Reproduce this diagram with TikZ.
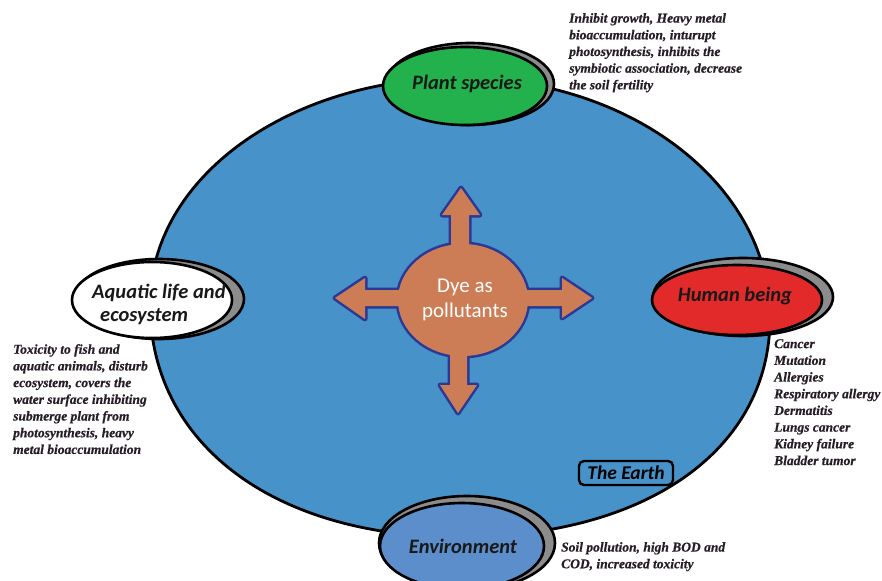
\documentclass[tikz,border=0pt]{standalone}
\usepackage{fontspec}
\setmainfont{Liberation Serif}
\newfontfamily\descfont{Liberation Serif}[BoldItalicFeatures={FakeBold=0.6}]
\newfontfamily\carlito{Carlito}
\usetikzlibrary{shapes.geometric}
\definecolor{earthblue}{RGB}{72,146,202}
\definecolor{plantgreen}{RGB}{34,177,76}
\definecolor{humanred}{RGB}{226,42,42}
\definecolor{envblue}{RGB}{92,142,204}
\definecolor{shadowgrey}{RGB}{140,140,140}
\definecolor{dyeorange}{RGB}{205,125,85}
\definecolor{dyeblue}{RGB}{42,56,150}
\definecolor{desctext}{RGB}{38,30,38}
\tikzset{
  shadowell/.style={ellipse, draw=black, line width=2.6pt, fill=shadowgrey, inner sep=0pt},
  mainell/.style={ellipse, draw=black, line width=2.6pt, inner sep=0pt},
  lbl/.style={font=\carlito\bfseries\itshape\fontsize{20.5}{24}\selectfont, text=black!90, inner sep=0pt},
  desc/.style={font=\descfont\bfseries\itshape\fontsize{13.5}{16.7}\selectfont, text=desctext, align=left, inner sep=0pt, anchor=north west},
}
\begin{document}
\begin{tikzpicture}[x=1pt,y=-1pt]
\useasboundingbox (0,0) rectangle (882,580);
\begin{scope}
\clip (0,0) rectangle (882,580);
% the earth (hand-drawn, fuller at the bottom)
\coordinate (eT) at (460,78);
\coordinate (eR) at (770,318);
\coordinate (eB) at (460,537);
\coordinate (eL) at (150,304);
\draw[line width=2.8pt, fill=earthblue]
  (eT) .. controls (631,78) and (770,185) .. (eR)
       .. controls (770,450) and (646,537) .. (eB)
       .. controls (274,537) and (150,444) .. (eL)
       .. controls (150,178) and (289,78) .. (eT) -- cycle;
% central dye shape
\def\dyeA{(463,300) ellipse [x radius=65pt, y radius=56pt]}
\def\dyeB{(451,260) -- (451,215) -- (442,215) -- (461,188) -- (480,215) -- (469,215) -- (469,260) -- cycle}
\def\dyeC{(450,340) -- (450,385) -- (440,385) -- (458,413) -- (477,385) -- (467,385) -- (467,340) -- cycle}
\def\dyeD{(410,290) -- (365,290) -- (365,278) -- (335,298) -- (365,319) -- (365,306) -- (410,306) -- cycle}
\def\dyeE{(515,290) -- (562,290) -- (562,278) -- (592,298) -- (562,318) -- (562,306) -- (515,306) -- cycle}
\draw[dyeblue, line width=5pt, line join=round] \dyeA \dyeB \dyeC \dyeD \dyeE;
\fill[dyeorange] \dyeA;
\fill[dyeorange] \dyeB;
\fill[dyeorange] \dyeC;
\fill[dyeorange] \dyeD;
\fill[dyeorange] \dyeE;
\node[font=\carlito\fontsize{21}{24.5}\selectfont, text=white, align=center, inner sep=0pt] (dye) at (465,300) {Dye as\\pollutants};
% plant species
\node[shadowell, minimum width=168pt, minimum height=82pt] (plantsh) at (470,84) {};
\node[mainell, fill=plantgreen, minimum width=164pt, minimum height=78pt] (plant) at (465,86) {};
\node[lbl] (plantlbl) at (467,84) {Plant species};
% aquatic
\node[shadowell, minimum width=170pt, minimum height=80pt] (aquash) at (159,299) {};
\node[mainell, fill=white, minimum width=160pt, minimum height=76pt] (aqua) at (152,300) {};
\node[lbl, anchor=base west] (aqualbl1) at (92,298) {Aquatic life and};
\node[lbl, anchor=base west] (aqualbl2) at (100,321) {ecosystem};
% human
\node[shadowell, minimum width=180pt, minimum height=78pt] (humansh) at (743,297) {};
\node[mainell, fill=humanred, minimum width=170pt, minimum height=70pt] (human) at (737,300) {};
\node[lbl] (humanlbl) at (735,296) {Human being};
% environment
\node[shadowell, minimum width=176pt, minimum height=94pt] (envsh) at (467,543) {};
\node[mainell, fill=envblue, minimum width=164pt, minimum height=86pt] (env) at (462,546) {};
\node[lbl] (envlbl) at (463,546) {Environment};
\end{scope}
% The Earth label
\node[draw=black, line width=2.4pt, rounded corners=5pt, minimum width=94pt, minimum height=24pt, inner sep=0pt, font=\carlito\bfseries\itshape\fontsize{19.5}{22}\selectfont, fill=earthblue] (earthlbl) at (626,473) {The Earth};
% descriptions
\node[desc] (plantdesc) at (569,13) {Inhibit growth, Heavy metal\\bioaccumulation, inturupt\\photosynthesis, inhibits the\\symbiotic association, decrease\\the soil fertility};
\node[desc] (aquadesc) at (13,344) {Toxicity to fish and\\aquatic animals, disturb\\ecosystem, covers the\\water surface inhibiting\\submerge plant from\\photosynthesis, heavy\\metal bioaccumulation};
\node[desc] (humandesc) at (774,339) {Cancer\\Mutation\\Allergies\\Respiratory allergy\\Dermatitis\\Lungs cancer\\Kidney failure\\Bladder tumor};
\node[desc] (envdesc) at (561,542) {Soil pollution, high BOD and\\COD, increased toxicity};
\end{tikzpicture}
\end{document}
